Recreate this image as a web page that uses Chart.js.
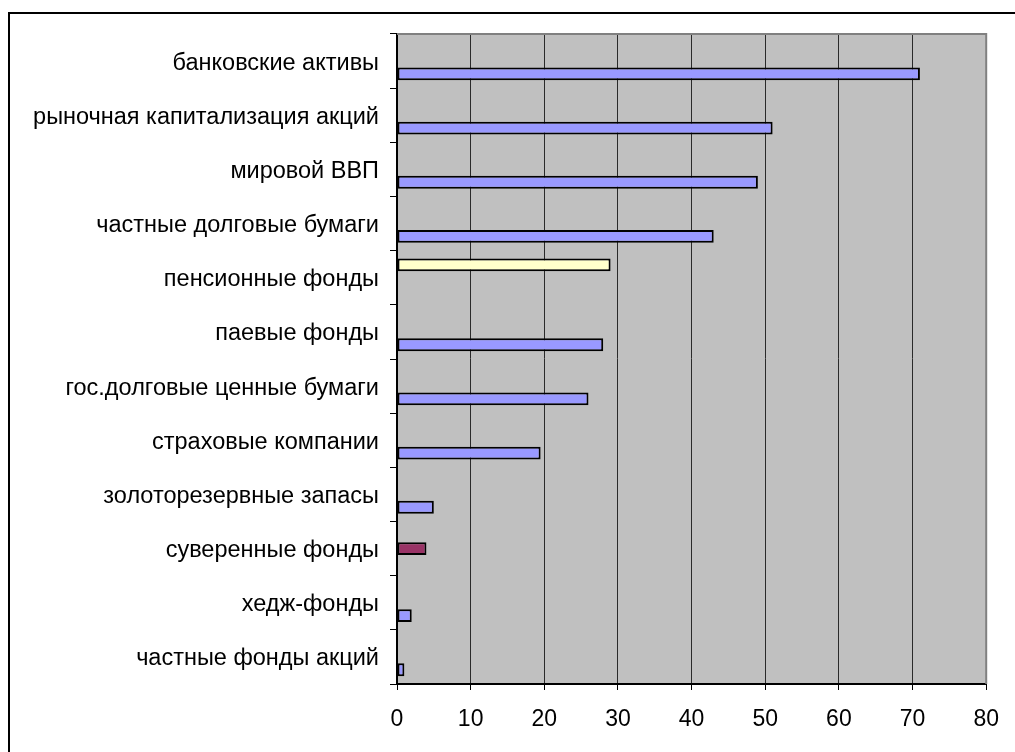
<!DOCTYPE html>
<html>
<head>
<meta charset="utf-8">
<script src="https://cdn.jsdelivr.net/npm/chart.js@4"></script>
<style>
    html, body { margin: 0; padding: 0; background: #fff; overflow: hidden; }
    #frame { position: absolute; left: 8px; top: 12px; width: 1100px; height: 900px; border: 2px solid #000; }
    #wrap { position: absolute; left: 0; top: 0; width: 1015px; height: 752px; }
</style>
</head>
<body>
<div id="frame"></div>
<div id="wrap"><canvas id="chart" width="1015" height="752"></canvas></div>
<script>
// categories, top to bottom
const categories = [
    'банковские активы',
    'рыночная капитализация акций',
    'мировой ВВП',
    'частные долговые бумаги',
    'пенсионные фонды',
    'паевые фонды',
    'гос.долговые ценные бумаги',
    'страховые компании',
    'золоторезервные запасы',
    'суверенные фонды',
    'хедж-фонды',
    'частные фонды акций'
];

// three series, each bar sits in its own slot of the category
const pensionSeries   = [null, null, null, null, 29, null, null, null, null, null, null, null];
const sovereignSeries = [null, null, null, null, null, null, null, null, null, 4, null, null];
const otherSeries     = [71, 51, 49, 43, null, 28, 26, 19.5, 5, null, 2, 1];

const xTicks = { min: 0, max: 80, step: 10 };

const labelFont = { family: '"Liberation Sans", Arial, sans-serif', size: 23.5 };
const numberFont = { family: '"Liberation Sans", Arial, sans-serif', size: 23 };

// grey plot area and its top/right border
const plotArea = {
    id: 'plotArea',
    beforeDraw(chart) {
        const { ctx, chartArea: a } = chart;
        ctx.save();
        ctx.fillStyle = '#c0c0c0';
        ctx.fillRect(a.left, a.top, a.right - a.left, a.bottom - a.top);
        ctx.restore();
    },
    afterDatasetsDraw(chart) {
        const { ctx, chartArea: a } = chart;
        ctx.save();
        ctx.strokeStyle = '#808080';
        ctx.lineWidth = 2;
        ctx.beginPath();
        ctx.moveTo(a.left, a.top);
        ctx.lineTo(a.right, a.top);
        ctx.lineTo(a.right, a.bottom);
        ctx.stroke();
        ctx.restore();
    }
};

new Chart(document.getElementById('chart'), {
    type: 'bar',
    data: {
        labels: categories,
        datasets: [
            { data: pensionSeries, backgroundColor: '#ffffcc' },
            { data: sovereignSeries, backgroundColor: '#993366' },
            { data: otherSeries, backgroundColor: '#9999ff' }
        ].map(ds => Object.assign(ds, {
            borderColor: '#000',
            borderWidth: 2,
            borderSkipped: false,
            categoryPercentage: 0.71,
            barPercentage: 1.0
        }))
    },
    options: {
        indexAxis: 'y',
        responsive: false,
        animation: false,
        layout: { padding: { top: 34, right: 25, left: 0, bottom: 0 } },
        plugins: {
            legend: { display: false },
            tooltip: { enabled: false }
        },
        scales: {
            x: {
                min: xTicks.min,
                max: xTicks.max,
                afterFit(scale) { scale.height = 68; },
                ticks: { stepSize: xTicks.step, color: '#000', font: numberFont, padding: 16 },
                grid: { color: '#2a2a2a', lineWidth: 1, tickLength: 6, tickColor: '#000' },
                border: { color: '#000', width: 2 }
            },
            y: {
                afterFit(scale) { scale.width = 397; },
                ticks: { color: '#000', font: labelFont, padding: 11, labelOffset: 2 },
                grid: { drawOnChartArea: false, offset: true, tickLength: 7, color: '#000', lineWidth: 1 },
                border: { color: '#000', width: 2 }
            }
        }
    },
    plugins: [plotArea]
});
</script>
</body>
</html>
